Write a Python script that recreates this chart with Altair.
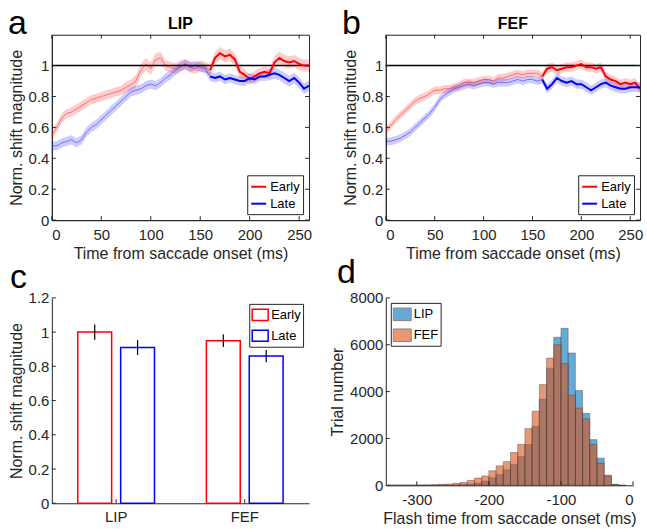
import altair as alt
import pandas as pd

# ---------------- data: panels a & b (time courses, 5 ms samples) ----------------
t_ms = list(range(0, 261, 5))

lip_early = [0.55, 0.60, 0.66, 0.69, 0.70, 0.72, 0.74, 0.76, 0.78, 0.79,
             0.80, 0.81, 0.82, 0.83, 0.84, 0.86, 0.875, 0.90, 0.97, 1.01,
             0.98, 1.04, 1.05, 1.00, 0.99, 0.98, 1.00, 1.01, 0.99, 0.98,
             1.00, 0.99, 0.97, 1.05, 1.08, 1.06, 1.07, 1.04, 0.96, 0.94,
             0.91, 0.93, 0.95, 0.96, 0.95, 1.02, 1.05, 1.03, 1.02, 1.03,
             1.01, 1.00, 1.00]
lip_late = [0.48, 0.48, 0.50, 0.51, 0.52, 0.50, 0.52, 0.57, 0.60, 0.62,
            0.65, 0.68, 0.71, 0.74, 0.77, 0.80, 0.83, 0.84, 0.85, 0.87,
            0.88, 0.87, 0.89, 0.92, 0.94, 0.97, 0.99, 1.01, 0.99, 1.00,
            0.99, 0.98, 0.93, 0.92, 0.93, 0.91, 0.92, 0.91, 0.90, 0.90,
            0.92, 0.91, 0.93, 0.93, 0.94, 0.95, 0.94, 0.92, 0.90, 0.92,
            0.89, 0.85, 0.87]
fef_early = [0.58, 0.61, 0.65, 0.68, 0.71, 0.74, 0.77, 0.79, 0.80, 0.82,
             0.84, 0.84, 0.85, 0.85, 0.86, 0.87, 0.89, 0.89, 0.89, 0.90,
             0.91, 0.91, 0.90, 0.92, 0.92, 0.93, 0.94, 0.95, 0.94, 0.95,
             0.95, 0.95, 0.93, 0.98, 0.99, 0.97, 0.98, 0.99, 0.99, 1.00,
             1.01, 0.99, 0.99, 0.98, 0.99, 0.93, 0.91, 0.90, 0.88, 0.89,
             0.88, 0.89, 0.85]
fef_late = [0.51, 0.51, 0.52, 0.53, 0.55, 0.57, 0.60, 0.63, 0.66, 0.69,
            0.73, 0.78, 0.81, 0.83, 0.85, 0.86, 0.87, 0.88, 0.87, 0.88,
            0.89, 0.89, 0.88, 0.89, 0.89, 0.89, 0.90, 0.91, 0.90, 0.91,
            0.91, 0.90, 0.91, 0.85, 0.88, 0.92, 0.90, 0.89, 0.90, 0.88,
            0.88, 0.86, 0.84, 0.86, 0.88, 0.89, 0.87, 0.86, 0.85, 0.85,
            0.86, 0.86, 0.86]

lip_early_sem = [0.03, 0.03, 0.03, 0.03, 0.03, 0.03, 0.03, 0.03, 0.03, 0.03,
                 0.03, 0.03, 0.03, 0.03, 0.03, 0.035, 0.035, 0.04, 0.04, 0.04,
                 0.04, 0.04, 0.04, 0.035, 0.035, 0.035, 0.035, 0.035, 0.035, 0.035,
                 0.035, 0.035, 0.035, 0.04, 0.04, 0.04, 0.04, 0.04, 0.04, 0.035,
                 0.035, 0.035, 0.035, 0.035, 0.035, 0.04, 0.04, 0.04, 0.04, 0.04,
                 0.04, 0.04, 0.04]
lip_late_sem = [0.03, 0.03, 0.03, 0.03, 0.03, 0.03, 0.03, 0.03, 0.03, 0.03,
                0.03, 0.03, 0.03, 0.03, 0.03, 0.03, 0.03, 0.03, 0.03, 0.03,
                0.03, 0.03, 0.03, 0.03, 0.03, 0.03, 0.03, 0.03, 0.03, 0.03,
                0.03, 0.03, 0.03, 0.03, 0.03, 0.03, 0.03, 0.03, 0.03, 0.03,
                0.03, 0.03, 0.03, 0.03, 0.035, 0.035, 0.035, 0.035, 0.035, 0.035,
                0.035, 0.035, 0.035]
fef_early_sem = [0.025, 0.025, 0.025, 0.025, 0.025, 0.025, 0.025, 0.025, 0.025, 0.025,
                 0.025, 0.025, 0.025, 0.025, 0.025, 0.025, 0.025, 0.025, 0.025, 0.025,
                 0.025, 0.025, 0.025, 0.025, 0.025, 0.025, 0.025, 0.025, 0.025, 0.025,
                 0.025, 0.025, 0.025, 0.03, 0.03, 0.03, 0.03, 0.03, 0.03, 0.03,
                 0.03, 0.03, 0.03, 0.03, 0.03, 0.03, 0.03, 0.03, 0.03, 0.03,
                 0.03, 0.03, 0.03]
fef_late_sem = [0.025, 0.025, 0.025, 0.025, 0.025, 0.025, 0.025, 0.025, 0.025, 0.025,
                0.025, 0.025, 0.025, 0.025, 0.025, 0.025, 0.025, 0.025, 0.025, 0.025,
                0.025, 0.025, 0.025, 0.025, 0.025, 0.025, 0.025, 0.025, 0.025, 0.025,
                0.025, 0.025, 0.025, 0.03, 0.03, 0.03, 0.03, 0.03, 0.03, 0.03,
                0.03, 0.03, 0.03, 0.03, 0.03, 0.03, 0.03, 0.03, 0.03, 0.03,
                0.03, 0.03, 0.03]

bold_from = 160     # time from which the traces are drawn as solid lines
ref_level = 1.0
time_ticks = [0, 50, 100, 150, 200, 250]
mag_ticks = [0, 0.2, 0.4, 0.6, 0.8, 1]

# ---------------- data: panel c (bar summary) ----------------
areas = ["LIP", "FEF"]
conds = ["Early", "Late"]
bar_means = {"LIP": [1.00, 0.91], "FEF": [0.95, 0.86]}
bar_sems = {"LIP": [0.045, 0.044], "FEF": [0.037, 0.036]}
bar_ticks = [0, 0.2, 0.4, 0.6, 0.8, 1, 1.2]

# ---------------- data: panel d (histograms, 10 ms bins) ----------------
bin_left = [-340, -330, -320, -310, -300, -290, -280, -270, -260, -250,
            -240, -230, -220, -210, -200, -190, -180, -170, -160, -150,
            -140, -130, -120, -110, -100, -90, -80, -70, -60, -50,
            -40, -30, -20]
bin_width = 10
lip_counts = [0, 0, 0, 0, 0, 5, 5, 10, 10, 15,
              30, 60, 100, 180, 320, 460, 660, 900, 1230, 1740,
              2520, 3680, 5000, 6320, 6700, 5650, 4050, 3070, 1950, 1160,
              430, 40, 0]
fef_counts = [5, 10, 10, 10, 15, 15, 25, 40, 50, 80,
              125, 210, 310, 400, 620, 830, 1010, 1400, 1750, 2420,
              3160, 4300, 5430, 6000, 5200, 3850, 3300, 2840, 1750, 950,
              400, 40, 0]
flash_ticks = [-300, -200, -100, 0]
count_ticks = [0, 2000, 4000, 6000, 8000]

# ---------------- styling ----------------
FONT = "Liberation Sans"
LETTER_FONT = "Liberation Sans"
INK = "#262626"
RED, BLUE = "#ff0000", "#0000ff"
LIP_C, FEF_C = "#0072BD", "#D95319"
TICK = 4

W_A, W_B, H_TOP = 258, 255, 186
W_C, H_C = 258, 206
W_D, H_D = 248, 188


def text_mark(text, x, y, size, font, weight="normal", align="left"):
    return alt.Chart(pd.DataFrame({"label": [text]})).mark_text(
        font=font, fontSize=size, fontWeight=weight, align=align,
        baseline="alphabetic", color="black"
    ).encode(text="label:N", x=alt.value(x), y=alt.value(y))


def inward_ticks(xfield, xvals, xenc, yfield, yvals, yenc, W, H, box):
    """Inside-pointing tick marks (MATLAB style), placed through the panel's own scales."""
    xdf = pd.DataFrame({xfield: xvals})
    ydf = pd.DataFrame({yfield: yvals})
    layers = [
        alt.Chart(xdf).mark_rule(color=INK, strokeWidth=1).encode(
            x=xenc, y=alt.value(H), y2=alt.value(H - TICK)),
        alt.Chart(ydf).mark_rule(color=INK, strokeWidth=1).encode(
            y=yenc, x=alt.value(0), x2=alt.value(TICK)),
    ]
    if box:
        layers += [
            alt.Chart(xdf).mark_rule(color=INK, strokeWidth=1).encode(
                x=xenc, y=alt.value(0), y2=alt.value(TICK)),
            alt.Chart(ydf).mark_rule(color=INK, strokeWidth=1).encode(
                y=yenc, x=alt.value(W - TICK), x2=alt.value(W)),
        ]
    return layers


def time_panel(letter, title, early, late, early_sem, late_sem, width):
    rows = []
    for cond, vals, sems in [("Early", early, early_sem), ("Late", late, late_sem)]:
        for t, v, s in zip(t_ms, vals, sems):
            rows.append({"t": t, "v": v, "lo": v - s, "hi": v + s, "cond": cond})
    df = pd.DataFrame(rows)
    base = alt.Chart(df)
    xs = alt.X("t:Q", scale=alt.Scale(domain=[0, 260], nice=False, zero=False),
               axis=alt.Axis(values=time_ticks, title="Time from saccade onset (ms)"))
    yscale = alt.Scale(domain=[0, 1.2], nice=False)
    yaxis = alt.Axis(values=mag_ticks, format=".1~f", title="Norm. shift magnitude")
    yv = alt.Y("v:Q", scale=yscale, axis=yaxis)
    cscale = alt.Scale(domain=conds, range=[RED, BLUE])
    leg = alt.Legend(
        title=None, orient="bottom-right", offset=6, symbolType="stroke",
        symbolSize=225, symbolStrokeWidth=2, symbolOpacity=1, labelFontSize=13,
        labelFont=FONT, strokeColor=INK, fillColor="white", padding=3, rowPadding=1,
        labelOffset=3, symbolOffset=0)
    col = alt.Color("cond:N", scale=cscale, legend=leg)

    band = base.mark_area(opacity=0.2).encode(
        x=xs, y=alt.Y("lo:Q", scale=yscale, axis=yaxis, stack=None), y2="hi:Q", color=col)
    pale = base.transform_filter(alt.datum.t <= bold_from).mark_line(
        strokeWidth=1, opacity=0.45).encode(x=xs, y=yv, color=col)
    ref = alt.Chart(pd.DataFrame({"v": [ref_level]})).mark_rule(
        color="black", strokeWidth=1.5).encode(y=yv)
    bold = base.transform_filter(alt.datum.t >= bold_from).mark_line(
        strokeWidth=2).encode(x=xs, y=yv, color=col)
    ticks = inward_ticks("t", time_ticks, xs, "v", mag_ticks, yv, width, H_TOP, box=True)
    lab = text_mark(letter, -44, -1, 34, LETTER_FONT)
    ttl = text_mark(title, width / 2, -6, 16, FONT, weight="bold", align="center")
    return alt.layer(band, pale, ref, bold, *ticks, lab, ttl).properties(
        width=width, height=H_TOP,
        view=alt.ViewBackground(stroke=INK, strokeWidth=1),
    )


panel_a = time_panel("a", "LIP", lip_early, lip_late, lip_early_sem, lip_late_sem, W_A)
panel_b = time_panel("b", "FEF", fef_early, fef_late, fef_early_sem, fef_late_sem, W_B)

# ---------------- panel c ----------------
rows_c = []
for a in areas:
    for i, c in enumerate(conds):
        m, s = bar_means[a][i], bar_sems[a][i]
        rows_c.append({"area": a, "cond": c, "mean": m, "lo": m - s, "hi": m + s})
df_c = pd.DataFrame(rows_c)
xc = alt.X("area:N", sort=areas, scale=alt.Scale(paddingInner=0, paddingOuter=0),
           axis=alt.Axis(title=None, labelAngle=0, labelPadding=6))
xoff = alt.XOffset("cond:N", sort=conds, scale=alt.Scale(paddingInner=0.21, paddingOuter=0.605))
yc_scale = alt.Scale(domain=[0, 1.2], nice=False)
yc_axis = alt.Axis(values=bar_ticks, format=".1~f", title="Norm. shift magnitude")
yc = alt.Y("mean:Q", scale=yc_scale, axis=yc_axis)
bars_c = alt.Chart(df_c).mark_bar(fill="white", strokeWidth=1.5).encode(
    x=xc, xOffset=xoff, y=yc,
    stroke=alt.Stroke("cond:N", scale=alt.Scale(domain=conds, range=[RED, BLUE]),
                      legend=alt.Legend(
                          title=None, orient="top-right", offset=6,
                          symbolType="M-1,-0.7L1,-0.7L1,0.7L-1,0.7Z", symbolSize=256,
                          symbolFillColor="white", symbolStrokeWidth=1.5,
                          labelFontSize=13, labelFont=FONT, strokeColor=INK,
                          fillColor="white", padding=2, rowPadding=3, labelOffset=2)),
)
err_c = alt.Chart(df_c).mark_rule(color="black", strokeWidth=1.2).encode(
    x=xc, xOffset=xoff, y=alt.Y("lo:Q", scale=yc_scale, axis=yc_axis), y2="hi:Q"
)
ticks_c = inward_ticks("area", areas, xc, "mean", bar_ticks, yc, W_C, H_C, box=False)
panel_c = alt.layer(bars_c, err_c, *ticks_c,
                    text_mark("c", -42, -10, 34, LETTER_FONT)).properties(width=W_C, height=H_C)

# ---------------- panel d ----------------
rows_d = []
for name, counts in [("LIP", lip_counts), ("FEF", fef_counts)]:
    for b, n in zip(bin_left, counts):
        rows_d.append({"area": name, "start": b, "end": b + bin_width, "count": n})
df_d = pd.DataFrame(rows_d)
xd = alt.X("start:Q", scale=alt.Scale(domain=[-343, 0], nice=False, zero=False),
           axis=alt.Axis(values=flash_ticks, labelExpr="datum.value + ''",
                         title="Flash time from saccade onset (ms)"))
yd = alt.Y("count:Q", stack=None, scale=alt.Scale(domain=[0, 8000], nice=False),
           axis=alt.Axis(values=count_ticks, format="d", title="Trial number"))
hist = alt.Chart(df_d).mark_bar(fillOpacity=0.6, stroke="#333333", strokeWidth=0.6,
                                strokeOpacity=0.6).encode(
    x=xd, x2="end:Q", y=yd, y2=alt.datum(0),
    color=alt.Color("area:N", scale=alt.Scale(domain=areas, range=[LIP_C, FEF_C]),
                    legend=alt.Legend(
                        title=None, orient="top-left", offset=5,
                        symbolType="M-1,-0.7L1,-0.7L1,0.7L-1,0.7Z", symbolSize=324,
                        symbolOpacity=0.6, symbolStrokeColor="#333333",
                        symbolStrokeWidth=1, labelFontSize=13, labelFont=FONT,
                        strokeColor=INK, fillColor="white", padding=2, rowPadding=3,
                        labelOffset=2)),
)
ticks_d = inward_ticks("start", flash_ticks, xd, "count", count_ticks, yd, W_D, H_D, box=False)
panel_d = alt.layer(hist, *ticks_d, text_mark("d", -49, -15, 34, LETTER_FONT)).properties(
    width=W_D, height=H_D)

chart = alt.concat(
    panel_a, panel_b, panel_c, panel_d,
    columns=2, spacing={"row": 78, "column": 77}, bounds="flush",
).resolve_scale(
    color="independent", stroke="independent"
).resolve_legend(
    color="independent", stroke="independent"
).properties(
    padding={"left": 7, "top": 5, "right": 2, "bottom": 0},
).configure(font=FONT).configure_view(stroke=None).configure_axis(
    grid=False, ticks=False, domainColor=INK, domainWidth=1,
    labelColor=INK, titleColor=INK, labelFont=FONT, titleFont=FONT,
    labelFontSize=15, titleFontSize=16, titleFontWeight="normal",
    labelPadding=3, titlePadding=4,
).configure_axisX(labelPadding=7, titlePadding=3)

chart.save("out.html", embed_options={"renderer": "svg", "actions": False})
